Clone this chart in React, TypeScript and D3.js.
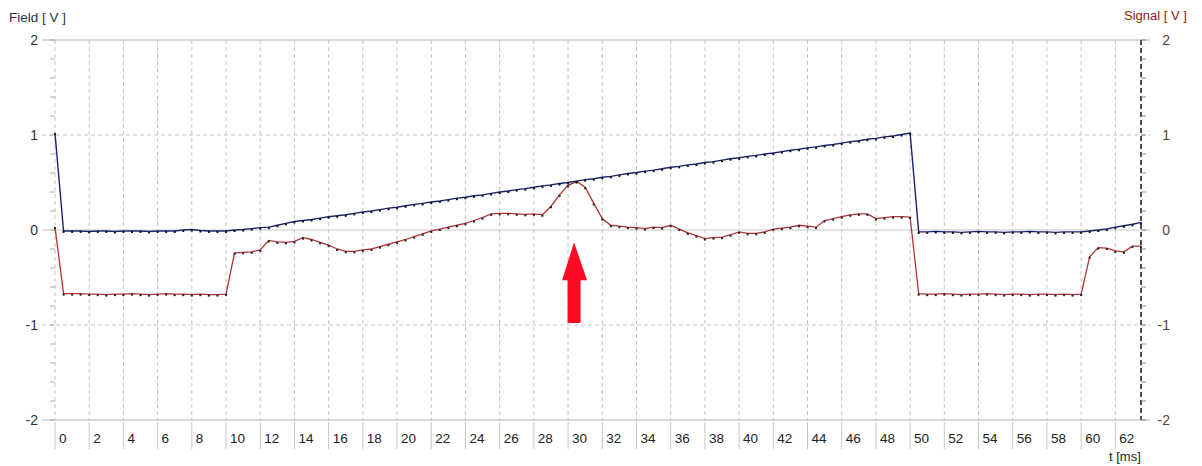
import React from "react";
import * as d3 from "d3";

// ---- data (sampled every 0.5 ms) ----
const SAMPLE_MS = 0.5;
const fieldValues = [
  1.02, -0.01, -0.01, -0.01, -0.015, -0.01, -0.01, -0.015, -0.01, -0.01,
  -0.01, -0.015, -0.01, -0.01, -0.01, 0.0, 0.005, -0.005, -0.01, -0.01,
  -0.01, 0.0, 0.005, 0.015, 0.025, 0.03, 0.05, 0.07, 0.09, 0.1,
  0.11, 0.125, 0.14, 0.15, 0.16, 0.175, 0.19, 0.2, 0.215, 0.23,
  0.24, 0.255, 0.27, 0.28, 0.295, 0.305, 0.32, 0.335, 0.345, 0.36,
  0.37, 0.385, 0.4, 0.41, 0.425, 0.435, 0.45, 0.465, 0.475, 0.49,
  0.5, 0.515, 0.53, 0.54, 0.555, 0.565, 0.58, 0.595, 0.605, 0.62,
  0.63, 0.645, 0.66, 0.67, 0.685, 0.695, 0.71, 0.72, 0.735, 0.75,
  0.76, 0.775, 0.785, 0.8, 0.81, 0.825, 0.84, 0.85, 0.865, 0.875,
  0.89, 0.9, 0.915, 0.93, 0.94, 0.955, 0.965, 0.98, 0.99, 1.005,
  1.02, -0.02, -0.02, -0.015, -0.02, -0.02, -0.025, -0.02, -0.015, -0.02,
  -0.02, -0.025, -0.02, -0.02, -0.015, -0.02, -0.02, -0.025, -0.02, -0.02,
  -0.02, -0.01, 0.0, 0.01, 0.03, 0.045, 0.06, 0.08,
];
const signalValues = [
  0.03, -0.67, -0.67, -0.67, -0.675, -0.675, -0.68, -0.675, -0.675, -0.67,
  -0.675, -0.68, -0.675, -0.67, -0.675, -0.675, -0.68, -0.675, -0.68, -0.68,
  -0.675, -0.24, -0.235, -0.23, -0.21, -0.11, -0.125, -0.13, -0.12, -0.08,
  -0.1, -0.13, -0.16, -0.2, -0.225, -0.225, -0.21, -0.2, -0.175, -0.15,
  -0.125, -0.1, -0.07, -0.04, -0.01, 0.01, 0.03, 0.05, 0.07, 0.1,
  0.13, 0.17, 0.175, 0.175, 0.17, 0.165, 0.17, 0.16, 0.25, 0.37,
  0.47, 0.51, 0.45, 0.28, 0.12, 0.05, 0.04, 0.03, 0.025, 0.015,
  0.03, 0.025, 0.05, 0.01, -0.03, -0.06, -0.09, -0.08, -0.075, -0.05,
  -0.02, -0.035, -0.035, -0.02, 0.01, 0.02, 0.03, 0.05, 0.04, 0.03,
  0.1, 0.12, 0.14, 0.16, 0.17, 0.17, 0.12, 0.13, 0.14, 0.14,
  0.135, -0.67, -0.675, -0.675, -0.67, -0.675, -0.68, -0.675, -0.675, -0.67,
  -0.675, -0.68, -0.675, -0.675, -0.68, -0.675, -0.675, -0.68, -0.675, -0.68,
  -0.675, -0.28, -0.185, -0.19, -0.22, -0.23, -0.17, -0.17,
];
const xTickLabels = ["0","2","4","6","8","10","12","14","16","18","20","22","24","26","28","30","32","34","36","38","40","42","44","46","48","50","52","54","56","58","60","62"];
const yTicks = [2, 1, 0, -1, -2];
const T_MAX = 63.5;
// arrow annotation (t, value)
const arrowT = 30.35;
const arrowTip = -0.13;
const arrowBase = -0.98;

export default function App() {
  const W = 1202, H = 466;
  const x = d3.scaleLinear().domain([0, T_MAX]).range([55, 1141]);
  const yL = d3.scaleLinear().domain([-2, 2]).range([420, 40]);
  const yR = d3.scaleLinear().domain([-2, 2]).range([420, 40]);

  const fieldPts = fieldValues.map((v, i) => [i * SAMPLE_MS, v] as [number, number]);
  const sigPts = signalValues.map((v, i) => [i * SAMPLE_MS, v] as [number, number]);
  const lineF = d3.line<[number, number]>().x(d => x(d[0])).y(d => yL(d[1]));
  const lineS = d3.line<[number, number]>().x(d => x(d[0])).y(d => yR(d[1]));

  const minor = d3.range(-2, 2.0001, 0.2);
  const font = "'Liberation Sans', Arial, sans-serif";
  const grid = "#c4c4c4";

  const ax = x(arrowT);
  const aTip = yL(arrowTip);
  const aHead = yL(arrowTip) + 38;
  const aBot = yL(arrowBase);

  return (
    <svg width={W} height={H} style={{ position: "absolute", left: 0, top: 0, background: "#fff" }} fontFamily={font}>
      <rect width={W} height={H} fill="#fff" />
      {/* vertical grid */}
      {xTickLabels.map((l, i) => (
        <line key={"vg" + i} x1={x(+l)} x2={x(+l)} y1={40} y2={420} stroke={grid} strokeDasharray="4,3" />
      ))}
      {/* horizontal grid */}
      <line x1={42} x2={1150} y1={yL(2)} y2={yL(2)} stroke="#b4b4b4" />
      <line x1={42} x2={1150} y1={yL(-2)} y2={yL(-2)} stroke="#b4b4b4" />
      <line x1={42} x2={1150} y1={yL(0)} y2={yL(0)} stroke="#c8c8c8" />
      <line x1={42} x2={1150} y1={yL(1)} y2={yL(1)} stroke={grid} strokeDasharray="4,3" />
      <line x1={42} x2={1150} y1={yL(-1)} y2={yL(-1)} stroke={grid} strokeDasharray="4,3" />
      {/* left minor ticks */}
      {minor.map((v, i) => (
        <line key={"lm" + i} x1={50} x2={55} y1={yL(v)} y2={yL(v)} stroke="#aaa" />
      ))}
      {/* right axis */}
      <line x1={1141} x2={1141} y1={40} y2={420} stroke="#222" strokeWidth={1.6} strokeDasharray="5,3" />
      {minor.map((v, i) => (
        <line key={"rm" + i} x1={1141} x2={1146} y1={yR(v)} y2={yR(v)} stroke="#888" />
      ))}
      {/* left labels */}
      {yTicks.map(v => (
        <text key={"yl" + v} x={38} y={yL(v)} dy="0.35em" textAnchor="end" fontSize={14} fill="#333">{v}</text>
      ))}
      {yTicks.map(v => (
        <text key={"yr" + v} x={1170} y={yR(v)} dy="0.35em" textAnchor="end" fontSize={14} fill="#5a4636">{v}</text>
      ))}
      <text x={9} y={22} fontSize={13.5} fill="#333">Field [ V ]</text>
      <text x={1124} y={20} fontSize={13} fill="#8b1a1a">Signal [ V ]</text>
      {/* x labels */}
      {xTickLabels.map((l, i) => (
        <g key={"xl" + i}>
          <line x1={x(+l)} x2={x(+l)} y1={422} y2={449} stroke="#c8c8c8" />
          <text x={x(+l) + 4} y={443} fontSize={13.5} fill="#222">{l}</text>
        </g>
      ))}
      <text x={1109} y={461} fontSize={13} fill="#222">t [ms]</text>

      {/* series */}
      <path d={lineS(sigPts) || ""} fill="none" stroke="#b03434" strokeWidth={1.3} />
      {sigPts.map((d, i) => (
        <rect key={"sp" + i} x={x(d[0]) - 1} y={yR(d[1])} width={2} height={2} fill="#222" />
      ))}
      <path d={lineF(fieldPts) || ""} fill="none" stroke="#1c2470" strokeWidth={1.4} />
      {fieldPts.map((d, i) => (
        <rect key={"fp" + i} x={x(d[0]) - 1} y={yL(d[1])} width={2} height={2} fill="#111" />
      ))}

      {/* arrow annotation */}
      <polygon
        points={`${ax},${aTip} ${ax + 13},${aHead} ${ax + 6.5},${aHead} ${ax + 6.5},${aBot} ${ax - 6.5},${aBot} ${ax - 6.5},${aHead} ${ax - 12},${aHead}`}
        fill="#ff0a25"
      />
    </svg>
  );
}
